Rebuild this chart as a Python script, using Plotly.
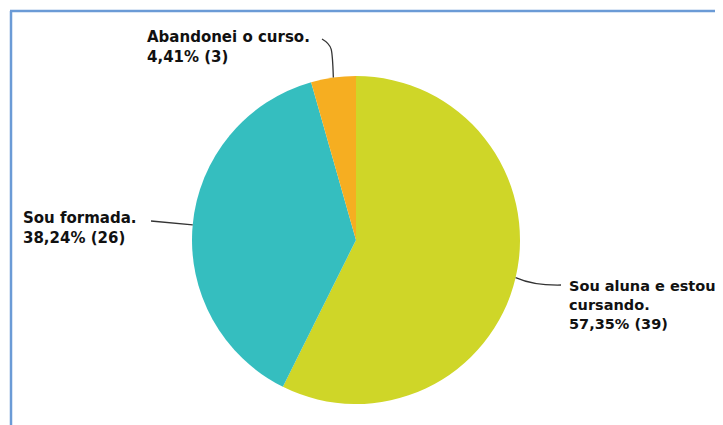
import math
import plotly.graph_objects as go

categories = ["Sou aluna e estou<br>cursando.", "Sou formada.", "Abandonei o curso."]
counts = [39, 26, 3]
colors = ["#CFD628", "#35BEBF", "#F6AE21"]

# page body has an 8px margin, so the figure is shifted by it
OFF = 8
W, H = 723 - OFF, 425 - OFF
# pie placement in pixels (reference coordinates)
cx, cy, r = 356, 240, 164


def px(x):
    return (x - OFF) / W


def py(y):
    return 1 - (y - OFF) / H


total = sum(counts)
pct = [c / total * 100 for c in counts]

fig = go.Figure()
fig.add_trace(go.Pie(
    labels=categories,
    values=counts,
    marker=dict(colors=colors, line=dict(width=0)),
    sort=False,
    direction="clockwise",
    rotation=0,
    textinfo="none",
    hoverinfo="label+percent+value",
    domain=dict(x=[px(cx - r), px(cx + r)], y=[py(cy + r), py(cy - r)]),
    showlegend=False,
))

# edge points at the middle of each slice, from the data
edge = []
start = 0
for c in counts:
    mid = start + c / total * 360 / 2
    start += c / total * 360
    a = math.radians(90 - mid)
    edge.append((cx + r * math.cos(a), cy - r * math.sin(a)))

# label boxes (left, top) and leader line ends
label_pos = [(568, 277), (22, 208), (146, 27)]
line_end = [(561, 285), (151, 221), (322, 39)]
label_size = [14.5, 15, 15]

shapes = []
for i, ((ex, ey), (lx, ly)) in enumerate(zip(edge, line_end)):
    if i == 2:
        path = (f"M {px(ex)} {py(ey)} C {px(ex - 1)} {py(ey - 30)}, "
                f"{px(ex - 1)} {py(ly + 6)}, {px(lx)} {py(ly)}")
    elif i == 0:
        path = (f"M {px(ex)} {py(ey)} Q {px(ex + 18)} {py(ey + 8)}, "
                f"{px(lx)} {py(ly)}")
    else:
        path = f"M {px(ex)} {py(ey)} L {px(lx)} {py(ly)}"
    shapes.append(dict(type="path", path=path, xref="paper", yref="paper",
                       line=dict(color="#333333", width=1.3)))

# blue frame (left and top)
shapes.append(dict(type="line", xref="paper", yref="paper",
                   x0=px(11), x1=px(11), y0=0, y1=py(11),
                   line=dict(color="#6B9BD6", width=2.5)))
shapes.append(dict(type="line", xref="paper", yref="paper",
                   x0=px(10), x1=1, y0=py(11), y1=py(11),
                   line=dict(color="#6B9BD6", width=2.5)))

annotations = []
for cat, p, c, (lx, ly), fs in zip(categories, pct, counts, label_pos, label_size):
    num = f"{p:.2f}".replace(".", ",")
    txt = f"<b>{cat}<br>{num}% ({c})</b>"
    annotations.append(dict(
        x=px(lx), y=py(ly), xref="paper", yref="paper",
        xanchor="left", yanchor="top", align="left",
        text=txt, showarrow=False, borderpad=0,
        font=dict(family="DejaVu Sans", size=fs, color="#111111"),
    ))

fig.update_layout(
    width=W, height=H,
    margin=dict(l=0, r=0, t=0, b=0),
    paper_bgcolor="white",
    plot_bgcolor="white",
    shapes=shapes,
    annotations=annotations,
)

fig.write_html("out.html")
